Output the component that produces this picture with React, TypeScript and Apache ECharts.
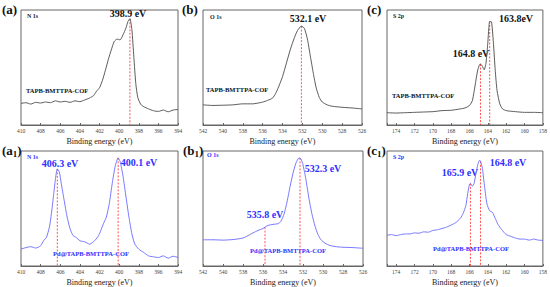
import React, { useEffect, useRef } from "react";
import * as echarts from "echarts";

// ---------- data (binding energy eV, intensity a.u.) ----------
const n1sE = [410, 409.5, 409, 408.5, 408, 407.5, 407, 406.5, 406, 405.5, 405, 404.5, 404, 403.5, 403, 402.6, 402.3, 402, 401.7, 401.4, 401.1, 400.8, 400.5, 400.2, 399.9, 399.6, 399.3, 399.1, 398.9, 398.7, 398.5, 398.3, 398.1, 397.8, 397.5, 397, 396.5, 396, 395.5, 395, 394.5, 394];
const n1sI = [18.8, 19.4, 18.2, 19.7, 19.1, 20, 19.4, 21, 20, 20.6, 19.7, 21, 20.3, 21.8, 23.5, 25.6, 29.4, 32.4, 38.8, 47.6, 57, 65.3, 72.6, 74.7, 74, 78.5, 84.4, 90, 92.4, 83, 59, 36, 24, 18, 16, 14, 12.4, 11.8, 13, 11.5, 13, 13.5];

const o1sE = [542, 541, 540, 539, 538, 537, 536, 535.5, 535, 534.7, 534.4, 534, 533.6, 533.2, 532.8, 532.5, 532.1, 531.8, 531.5, 531.2, 530.9, 530.6, 530.3, 530, 529.5, 529, 528, 527, 526];
const o1sI = [17.5, 17, 17.2, 17.5, 18.4, 18.4, 19.9, 21.4, 23.4, 27.3, 33, 42, 54, 66, 76, 82, 86, 84, 75, 60, 45, 32, 24, 20, 17.5, 16.3, 15.4, 14.8, 14];

const s2pE = [175, 174, 173, 172, 171, 170, 169, 168, 167, 166.5, 166, 165.7, 165.5, 165.3, 165.1, 164.9, 164.8, 164.6, 164.4, 164.2, 164.0, 163.9, 163.8, 163.6, 163.4, 163.2, 163, 162.7, 162.4, 162, 161, 160, 159, 158];
const s2pI = [10.7, 10.4, 10.7, 11, 11.3, 11.6, 12.5, 12.8, 14, 14.8, 17, 21, 29, 39, 48, 52.5, 53, 51, 48, 54, 72, 84, 90, 89.6, 72, 48, 30, 18.4, 14, 12.5, 11.6, 11, 11, 10.7];

const pdN1sE = [410, 409.5, 409, 408.5, 408, 407.7, 407.4, 407.1, 406.9, 406.7, 406.5, 406.3, 406.1, 405.9, 405.6, 405.3, 405, 404.7, 404.4, 404, 403.5, 403, 402.5, 402.2, 402, 401.6, 401.3, 401, 400.7, 400.4, 400.1, 399.9, 399.6, 399.3, 399, 398.7, 398.4, 398, 397.5, 397, 396.5, 396, 395.5, 395, 394.5, 394];
const pdN1sI = [14.7, 16, 16.8, 15.6, 17.6, 22, 25, 34, 45.6, 60, 75, 84.4, 82, 72, 57, 42.6, 32.4, 26.5, 25, 22, 21, 19, 22, 25, 28, 36.8, 42.6, 54.4, 72, 86.8, 94, 91, 78, 60, 42.6, 28, 19, 14.7, 11.8, 8.8, 8, 7.4, 8.8, 6.8, 8.5, 7.4];

const pdO1sE = [542, 541, 540, 539, 538, 537.5, 537, 536.5, 536, 535.8, 535.5, 535, 534.5, 534.2, 533.9, 533.6, 533.3, 533, 532.7, 532.4, 532.2, 532, 531.7, 531.4, 531.1, 530.8, 530.5, 530.2, 529.8, 529.3, 528.5, 528, 527, 526];
const pdO1sI = [22.8, 22.8, 22.5, 23, 24.3, 26.4, 28.8, 30.9, 32.6, 33.8, 35.3, 36.2, 36.8, 39, 45, 55.5, 68.8, 80.7, 89.6, 94, 93, 88, 74.8, 58.5, 45, 34.7, 27.3, 22.8, 19.9, 17.8, 16.6, 16.3, 16, 15.4];

const pdS2pE = [175, 174.5, 174, 173.5, 173, 172.5, 172, 171.5, 171, 170.5, 170, 169.5, 169, 168.5, 168, 167.5, 167, 166.7, 166.4, 166.2, 166, 165.9, 165.7, 165.5, 165.3, 165.1, 164.9, 164.8, 164.6, 164.4, 164.1, 163.8, 163.5, 163.2, 162.9, 162.5, 162, 161.5, 161, 160.5, 160, 159.5, 159, 158.5, 158];
const pdS2pI = [26.7, 27.3, 26.4, 27.3, 27.9, 27.9, 28.8, 28.5, 29.7, 29.4, 30.9, 31.5, 32.6, 33.8, 35.6, 37.7, 41.5, 45.7, 52.5, 63, 71.2, 71.8, 69.4, 71.8, 80.7, 88, 92, 91, 85, 71.8, 54, 48, 46.6, 41.5, 36.2, 31.7, 27.3, 25.8, 24.3, 23.4, 23.4, 22.5, 23.4, 22.5, 22.3];

// peak positions and heights (for the dashed markers)
const peaksA = [[398.9, 92.4]];
const peaksB = [[532.1, 86]];
const peaksC = [[164.8, 53], [163.8, 90]];
const peaksA1 = [[406.3, 84.4], [400.1, 94]];
const peaksB1 = [[535.8, 33.8], [532.3, 94]];
const peaksC1 = [[165.9, 71.8], [164.8, 91]];

const ranges = [[394, 410], [526, 542], [158, 175], [394, 410], [526, 542], [158, 175]];
const sampleNames = ["TAPB-BMTTPA-COF", "Pd@TAPB-BMTTPA-COF"];
const coreLevels = ["N 1s", "O 1s", "S 2p"];

const SERIF = "'Liberation Serif', 'Times New Roman', serif";
const GRAY = "#4a4a4a";
const BLUE_LINE = "#6a6aff";
const BLUE_TEXT = "#2f2fff";
const RED = "#ff4040";

export default function App() {
  const ref = useRef<HTMLDivElement>(null);
  useEffect(() => {
    if (!ref.current) return;
    const chart = echarts.init(ref.current, null, { renderer: "svg" });

    const grids = [
      { left: 21, top: 10, width: 157, height: 115 },
      { left: 203, top: 10, width: 159, height: 115 },
      { left: 387, top: 10, width: 161, height: 115 },
      { left: 21, top: 151, width: 157, height: 115 },
      { left: 203, top: 151, width: 160, height: 115 },
      { left: 387, top: 151, width: 160, height: 115 },
    ].map((g) => ({ ...g, show: true, borderColor: "#666", borderWidth: 1, backgroundColor: "transparent" }));

    const xAxes = ranges.map((r, i) => ({
      type: "value",
      gridIndex: i,
      min: r[0],
      max: r[1],
      interval: 2,
      inverse: true,
      name: "Binding energy (eV)",
      nameLocation: "middle",
      nameGap: 12,
      nameTextStyle: { fontFamily: SERIF, fontSize: 8, color: "#222" },
      axisLine: { show: true, lineStyle: { color: "#666", width: 1 } },
      axisTick: { show: true, inside: true, length: 2, lineStyle: { color: "#666" } },
      axisLabel: {
        fontFamily: SERIF,
        fontSize: 5.5,
        color: "#444",
        margin: 3,
        formatter: (v: number) => (v % 2 === 0 ? String(v) : ""),
      },
      splitLine: { show: false },
    }));

    const yAxes = ranges.map((_, i) => ({
      type: "value",
      gridIndex: i,
      min: 0,
      max: 100,
      show: false,
      splitLine: { show: false },
    }));

    const panels = [
      { e: n1sE, v: n1sI, peaks: peaksA, color: GRAY },
      { e: o1sE, v: o1sI, peaks: peaksB, color: GRAY },
      { e: s2pE, v: s2pI, peaks: peaksC, color: GRAY },
      { e: pdN1sE, v: pdN1sI, peaks: peaksA1, color: BLUE_LINE },
      { e: pdO1sE, v: pdO1sI, peaks: peaksB1, color: BLUE_LINE },
      { e: pdS2pE, v: pdS2pI, peaks: peaksC1, color: BLUE_LINE },
    ];

    const series: any[] = [];
    panels.forEach((p, i) => {
      p.peaks.forEach((pk) => {
        series.push({
          type: "line",
          xAxisIndex: i,
          yAxisIndex: i,
          data: [[pk[0], pk[1]], [pk[0], 0]],
          showSymbol: false,
          symbol: "none",
          silent: true,
          z: 1,
          lineStyle: { color: RED, type: [2, 1.5], width: 0.9 },
        });
      });
      series.push({
        type: "line",
        xAxisIndex: i,
        yAxisIndex: i,
        data: p.e.map((x, k) => [x, p.v[k]]),
        showSymbol: false,
        symbol: "none",
        smooth: 0.2,
        z: 2,
        lineStyle: { color: p.color, width: 0.9 },
      });
    });

    const txt = (x: number, y: number, text: string, size: number, fill: string, bold = true, align = "center") => ({
      type: "text",
      x,
      y,
      style: {
        text,
        fill,
        font: `${bold ? "bold " : ""}${size}px ${SERIF}`,
        textAlign: align,
        textVerticalAlign: "middle",
      },
    });

    const panelLabel = (x: number, y: number, letter: string, sub: boolean) => ({
      type: "text",
      x,
      y,
      style: {
        text: sub ? `{m|(${letter}}{s|1}{m|)}` : `{m|(${letter})}`,
        textVerticalAlign: "middle",
        rich: {
          m: { fontFamily: SERIF, fontWeight: "bold", fontSize: 13, fill: "#111", color: "#111", lineHeight: 16, verticalAlign: "middle" },
          s: { fontFamily: SERIF, fontWeight: "bold", fontSize: 9, fill: "#111", color: "#111", lineHeight: 16, verticalAlign: "bottom", padding: [7, 0, 0, 0] },
        },
      },
    });

    const graphic = [
      panelLabel(2, 9, "a", false),
      panelLabel(182, 9, "b", false),
      panelLabel(367, 9, "c", false),
      panelLabel(2, 150, "a", true),
      panelLabel(183, 150, "b", true),
      panelLabel(367, 150, "c", true),
      txt(27, 16, coreLevels[0], 6, "#222", true, "left"),
      txt(210, 17, coreLevels[1], 6, "#222", true, "left"),
      txt(393, 16, coreLevels[2], 6, "#222", true, "left"),
      txt(27, 157, coreLevels[0], 6, BLUE_TEXT, true, "left"),
      txt(207, 155, coreLevels[1], 6, BLUE_TEXT, true, "left"),
      txt(393, 157, coreLevels[2], 6, BLUE_TEXT, true, "left"),
      txt(128, 13, "398.9 eV", 10, "#111"),
      txt(308, 18, "532.1 eV", 10, "#111"),
      txt(516, 18, "163.8eV", 10, "#111"),
      txt(471, 53, "164.8 eV", 10, "#111"),
      txt(60, 163, "406.3 eV", 10, BLUE_TEXT),
      txt(139, 162, "400.1 eV", 10, BLUE_TEXT),
      txt(323, 168, "532.3 eV", 10, BLUE_TEXT),
      txt(265, 214, "535.8 eV", 10, BLUE_TEXT),
      txt(460, 172, "165.9 eV", 10, BLUE_TEXT),
      txt(508, 162, "164.8 eV", 10, BLUE_TEXT),
      txt(26, 90, sampleNames[0], 6.5, "#111", true, "left"),
      txt(206, 89, sampleNames[0], 6.5, "#111", true, "left"),
      txt(392, 95, sampleNames[0], 6.5, "#111", true, "left"),
      txt(91, 253, sampleNames[1], 6.5, BLUE_TEXT),
      txt(288, 250, sampleNames[1], 6.5, BLUE_TEXT),
      txt(471, 248, sampleNames[1], 6.5, BLUE_TEXT),
    ];

    chart.setOption({
      animation: false,
      backgroundColor: "#fff",
      grid: grids,
      xAxis: xAxes,
      yAxis: yAxes,
      series,
      graphic,
    } as any);

    return () => chart.dispose();
  }, []);

  return (
    <div
      ref={ref}
      style={{ position: "fixed", left: 0, top: 0, width: 550, height: 287, background: "#fff" }}
    />
  );
}
